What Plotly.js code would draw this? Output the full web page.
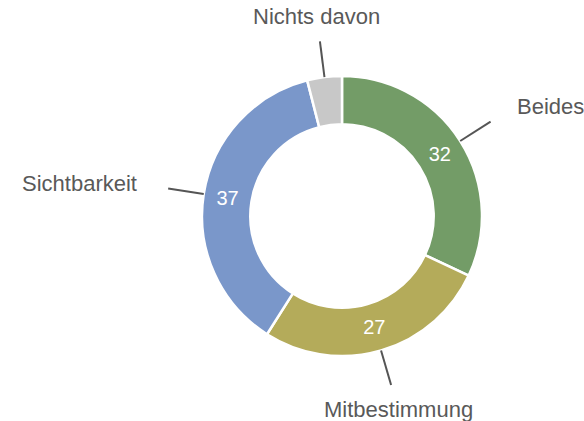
<!DOCTYPE html>
<html>
<head>
<meta charset="utf-8">
<script src="https://cdn.plot.ly/plotly-3.0.1.min.js"></script>
<style>html,body{margin:0;padding:0;background:#fff}#chart{width:584px;height:421px}</style>
</head>
<body>
<div id="chart"></div>
<script>
const categories = ["Beides", "Mitbestimmung", "Sichtbarkeit", "Nichts davon"];
const values = [32, 27, 37, 4];
const colors = ["#739c67", "#b4ab5a", "#7a97ca", "#c8c8c8"];

const W = 584, H = 421;
const cx = 342, cy = 216, R = 140;
const domX = [(cx - R) / W, (cx + R) / W];
const domY = [(H - cy - R) / H, (H - cy + R) / H];

const total = values.reduce((a, b) => a + b, 0);
const shapes = [], annotations = [];
let cum = 0;
const toPaper = (x, y) => [x / W, 1 - y / H];
values.forEach((v, i) => {
  const mid = (cum + v / 2) / total * 2 * Math.PI;
  cum += v;
  const s = Math.sin(mid), c = Math.cos(mid);
  const p0 = toPaper(cx + R * s, cy - R * c);
  const p1 = toPaper(cx + (R + 36) * s, cy - (R + 36) * c);
  shapes.push({type: "line", xref: "paper", yref: "paper",
    x0: p0[0], y0: p0[1], x1: p1[0], y1: p1[1],
    line: {color: "#555555", width: 2}});
  const lr = R + 60 + 6 * Math.abs(s);
  const lp = toPaper(cx + lr * s, cy - lr * c);
  annotations.push({xref: "paper", yref: "paper", x: lp[0], y: lp[1],
    text: categories[i], showarrow: false,
    xanchor: s > 0.5 ? "left" : (s < -0.5 ? "right" : "center"),
    yanchor: "middle",
    font: {family: "Liberation Sans, Arial, sans-serif", size: 22, color: "#595959"}});
});

const data = [{
  type: "pie",
  labels: categories,
  values: values,
  hole: 0.655,
  sort: false,
  direction: "clockwise",
  rotation: 0,
  domain: {x: domX, y: domY},
  marker: {colors: colors, line: {color: "#ffffff", width: 2.5}},
  textinfo: "value",
  texttemplate: ["%{value}", "%{value}", "%{value}", ""],
  textposition: "inside",
  insidetextorientation: "horizontal",
  textfont: {family: "Liberation Sans, Arial, sans-serif", size: 20, color: "#ffffff"},
  showlegend: false,
  hoverinfo: "label+value"
}];

const layout = {
  width: W, height: H,
  margin: {l: 0, r: 0, t: 0, b: 0},
  paper_bgcolor: "#ffffff",
  showlegend: false,
  shapes: shapes,
  annotations: annotations
};

Plotly.newPlot("chart", data, layout, {displayModeBar: false, staticPlot: true});
</script>
</body>
</html>
